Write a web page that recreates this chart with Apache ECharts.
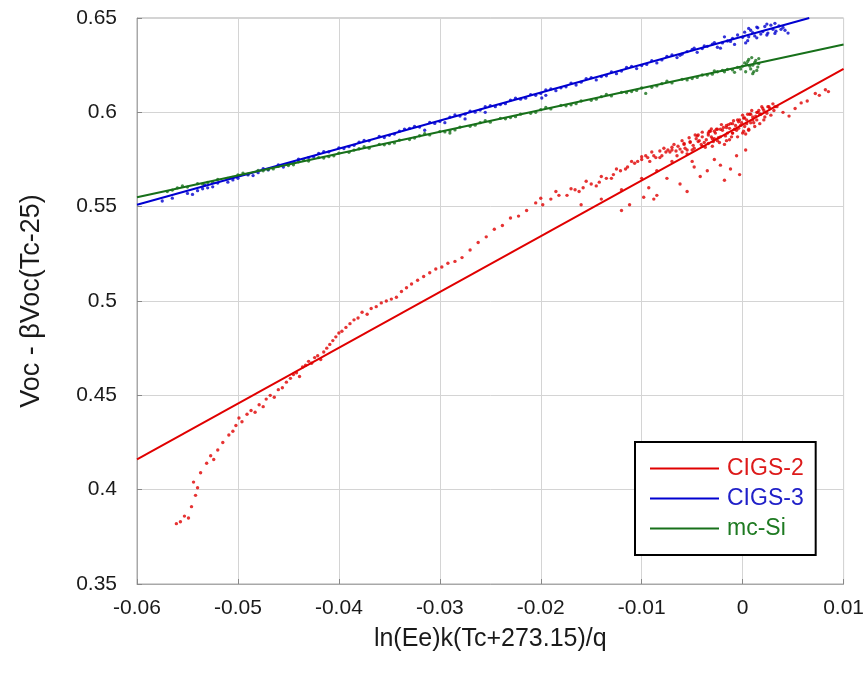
<!DOCTYPE html>
<html>
<head>
<meta charset="utf-8">
<script src="https://cdn.jsdelivr.net/npm/echarts@6/dist/echarts.min.js"></script>
<style>html,body{margin:0;padding:0;background:#fff}#c{width:867px;height:681px}</style>
</head>
<body>
<div id="c"></div>
<script>
// Axis ticks
var xTicks = [-0.06, -0.05, -0.04, -0.03, -0.02, -0.01, 0, 0.01];
var yTicks = [0.35, 0.4, 0.45, 0.5, 0.55, 0.6, 0.65];

// Fitted lines (endpoints)
var cigs2Line = [[-0.06, 0.416], [0.01, 0.623]];
var cigs3Line = [[-0.06, 0.551], [0.0066, 0.650]];
var mcSiLine  = [[-0.06, 0.555], [0.01, 0.636]];

// Measured points: CIGS-2
var cigs2Points = [
[-0.0561,0.382],[-0.0557,0.383],[-0.0553,0.386],[-0.0549,0.385],[-0.0546,0.391],
[-0.0542,0.397],[-0.0540,0.401],[-0.0544,0.404],[-0.0537,0.409],[-0.0531,0.414],
[-0.0527,0.418],[-0.0524,0.416],[-0.0520,0.421],[-0.0515,0.425],[-0.0509,0.429],
[-0.0505,0.431],[-0.0502,0.434],[-0.0499,0.438],[-0.0496,0.436],[-0.0491,0.440],
[-0.0487,0.442],[-0.0483,0.441],[-0.0479,0.445],[-0.0475,0.444],[-0.0472,0.448],
[-0.0468,0.450],[-0.0464,0.449],[-0.0460,0.453],[-0.0456,0.454],[-0.0452,0.457],
[-0.0448,0.459],[-0.0445,0.461],[-0.0442,0.462],[-0.0439,0.460],[-0.0436,0.465],
[-0.0433,0.466],[-0.0430,0.468],[-0.0427,0.467],[-0.0424,0.470],[-0.0421,0.471],
[-0.0418,0.469],[-0.0415,0.473],[-0.0412,0.475],[-0.0409,0.477],[-0.0406,0.479],
[-0.0403,0.481],[-0.0400,0.483],[-0.0397,0.484],[-0.0393,0.486],[-0.0389,0.488],
[-0.0385,0.490],[-0.0381,0.491],[-0.0377,0.494],[-0.0372,0.493],[-0.0368,0.496],
[-0.0363,0.497],[-0.0358,0.499],[-0.0353,0.500],[-0.0348,0.501],[-0.0343,0.502],
[-0.0338,0.505],[-0.0333,0.507],[-0.0328,0.509],[-0.0322,0.511],[-0.0316,0.513],
[-0.0310,0.515],[-0.0304,0.517],[-0.0298,0.518],[-0.0292,0.520],[-0.0285,0.521],
[-0.0278,0.523],[-0.0270,0.527],[-0.0262,0.531],[-0.0254,0.534],[-0.0246,0.538],
[-0.0238,0.540],[-0.0230,0.544],[-0.0222,0.545],[-0.0214,0.548],[-0.0205,0.552],
[-0.0198,0.551],[-0.0190,0.554],[-0.0182,0.556],[-0.0174,0.556],[-0.0166,0.559],
[-0.0158,0.560],[-0.0150,0.562],[-0.0142,0.563],[-0.0135,0.565],[-0.0128,0.567],
[-0.0121,0.569],[-0.0114,0.571],[-0.0107,0.573],[-0.0100,0.575],[-0.0094,0.576],
[-0.0088,0.577],[-0.0082,0.576],[-0.0076,0.579],[-0.0070,0.580],[-0.0064,0.582],
[-0.0058,0.583],[-0.0052,0.584],[-0.0046,0.586],[-0.0040,0.587],[-0.0034,0.589],
[-0.0028,0.590],[-0.0022,0.591],[-0.0016,0.593],[-0.0010,0.594],[-0.0004,0.595],
[0.0002,0.597],[0.0008,0.599],[0.0014,0.600],[0.0020,0.602],[0.0026,0.603],
[-0.0160,0.551],[-0.0140,0.554],[-0.0120,0.559],[-0.0100,0.565],[-0.0085,0.569],
[-0.0070,0.574],[-0.0055,0.578],[-0.0040,0.582],[-0.0025,0.585],[-0.0010,0.589],
[-0.0048,0.581],[-0.0044,0.588],[-0.0038,0.584],[-0.0033,0.590],[-0.0030,0.586],
[-0.0026,0.591],[-0.0022,0.587],[-0.0019,0.592],[-0.0015,0.589],[-0.0012,0.594],
[-0.0008,0.591],[-0.0005,0.596],[-0.0002,0.593],[0.0001,0.597],[0.0004,0.594],
[0.0007,0.599],[0.0010,0.596],[0.0013,0.598],[0.0016,0.601],[0.0018,0.599],
[0.0000,0.589],[-0.0016,0.585],[-0.0030,0.582],[0.0006,0.591],[-0.0060,0.579],
[-0.0120,0.548],[-0.0112,0.551],[-0.0098,0.555],[-0.0088,0.554],[-0.0085,0.556],
[-0.0093,0.560],[-0.0062,0.562],[-0.0055,0.558],[-0.0048,0.571],[-0.0042,0.566],
[-0.0035,0.569],[-0.0028,0.575],[-0.0022,0.572],[-0.0018,0.564],[-0.0012,0.570],
[-0.0006,0.577],[-0.0003,0.567],[0.0003,0.580],[-0.0075,0.565],[-0.0050,0.574],
[-0.0078,0.5810],[-0.0072,0.5790],[-0.0068,0.5830],[-0.0065,0.5770],[-0.0060,0.5850],
[-0.0057,0.5810],[-0.0053,0.5865],[-0.0050,0.5800],[-0.0047,0.5880],[-0.0043,0.5850],
[-0.0040,0.5895],[-0.0037,0.5815],[-0.0034,0.5880],[-0.0031,0.5912],[-0.0028,0.5860],
[-0.0025,0.5910],[-0.0021,0.5935],[-0.0018,0.5830],[-0.0014,0.5935],[-0.0011,0.5870],
[-0.0009,0.5955],[-0.0006,0.5905],[-0.0003,0.5960],[0.0000,0.5985],[0.0003,0.5885],
[0.0005,0.5990],[0.0009,0.6010],[0.0011,0.5945],[0.0015,0.6000],[0.0019,0.6030],
[0.0022,0.5975],[0.0025,0.6030],[0.0030,0.6045],[-0.0016,0.5920],[-0.0032,0.5900],
[-0.0045,0.5875],[-0.0058,0.5835],[-0.0070,0.5815],[-0.0082,0.5795],[-0.0090,0.5790],
[-0.0100,0.5765],[-0.0110,0.5740],[-0.0125,0.5700],[-0.0140,0.5660],[-0.0155,0.5635],
[-0.0170,0.5595],[-0.0185,0.5580],[-0.0200,0.5545],
[-0.0036,0.5855],[-0.0034,0.5835],[-0.0031,0.5870],[-0.0029,0.5845],[-0.0027,0.5890],
[-0.0024,0.5865],[-0.0023,0.5840],[-0.0020,0.5905],[-0.0017,0.5875],[-0.0013,0.5855],
[-0.0013,0.5915],[-0.0010,0.5890],[-0.0007,0.5930],[-0.0005,0.5870],[-0.0004,0.5915],
[-0.0001,0.5945],[0.0001,0.5900],[0.0002,0.5925],[0.0004,0.5960],[0.0006,0.5905],
[0.0008,0.5945],[0.0010,0.5975],[0.0012,0.5925],[0.0014,0.5960],[0.0017,0.5990],
[0.0017,0.5940],[0.0021,0.6010],[0.0021,0.5960],[0.0024,0.5995],[0.0027,0.6020],
[0.0028,0.5985],[0.0031,0.6010],[0.0034,0.6030],[-0.0041,0.5830],[-0.0044,0.5845],
[-0.0049,0.5825],[-0.0052,0.5845],[-0.0055,0.5800],[-0.0062,0.5805],[-0.0066,0.5795],
[-0.0074,0.5800],[-0.0080,0.5770],[-0.0086,0.5760],[-0.0092,0.5740],[-0.0096,0.5770],
[-0.0104,0.5740],[-0.0116,0.5700],[-0.0130,0.5650],[-0.0145,0.5610],[-0.0162,0.5580],
[0.0032,0.603],[0.0040,0.600],[0.0046,0.598],[0.0052,0.602],[0.0058,0.605],
[0.0064,0.606],[0.0072,0.610],[0.0076,0.609],[0.0082,0.612],[0.0085,0.611]
];

// Measured points: CIGS-3
var cigs3Points = [
[-0.0575,0.5530],[-0.0565,0.5545],[-0.0550,0.5570],[-0.0540,0.5585],[-0.0530,0.5600],
[-0.0520,0.5625],[-0.0510,0.5630],[-0.0500,0.5650],[-0.0490,0.5668],[-0.0480,0.5680],
[-0.0470,0.5695],[-0.0460,0.5722],[-0.0450,0.5728],[-0.0440,0.5752],[-0.0430,0.5760],
[-0.0420,0.5782],[-0.0410,0.5790],[-0.0400,0.5812],[-0.0390,0.5818],[-0.0380,0.5842],
[-0.0370,0.5849],[-0.0360,0.5872],[-0.0350,0.5878],[-0.0340,0.5900],[-0.0330,0.5915],
[-0.0320,0.5922],[-0.0310,0.5946],[-0.0300,0.5952],[-0.0290,0.5975],[-0.0280,0.5980],
[-0.0270,0.6006],[-0.0260,0.6012],[-0.0250,0.6036],[-0.0240,0.6041],[-0.0230,0.6065],
[-0.0220,0.6070],[-0.0210,0.6094],[-0.0200,0.6100],[-0.0190,0.6124],[-0.0180,0.6130],
[-0.0170,0.6155],[-0.0160,0.6160],[-0.0150,0.6184],[-0.0140,0.6190],[-0.0130,0.6214],
[-0.0120,0.6219],[-0.0110,0.6244],[-0.0100,0.6248],[-0.0090,0.6274],[-0.0080,0.6278],
[-0.0070,0.6304],[-0.0060,0.6308],[-0.0050,0.6333],[-0.0040,0.6338],[-0.0030,0.6362],
[-0.0020,0.6368],[-0.0010,0.6392],[0.0000,0.6398],[0.0010,0.6422],[0.0020,0.6428],
[0.0030,0.6440],[0.0040,0.6450],
[-0.0545,0.5565],[-0.0525,0.5605],[-0.0485,0.5665],[-0.0455,0.5710],[-0.0425,0.5765],
[-0.0385,0.5825],[-0.0345,0.5885],[-0.0315,0.5905],[-0.0295,0.5945],[-0.0275,0.5990],
[-0.0245,0.6030],[-0.0215,0.6075],[-0.0199,0.6076],[-0.0185,0.6115],[-0.0165,0.6145],
[-0.0145,0.6172],[-0.0125,0.6205],[-0.0105,0.6232],[-0.0085,0.6262],[-0.0065,0.6290],
[-0.0055,0.6322],[-0.0045,0.6318],[-0.0035,0.6350],[-0.0025,0.6345],[-0.0015,0.6378],
[-0.0005,0.6410],[0.0005,0.6380],[0.0008,0.6435],[0.0012,0.6405],[0.0015,0.6448],
[0.0018,0.6415],[0.0022,0.6455],[0.0025,0.6420],[0.0028,0.6462],[0.0033,0.6430],
[0.0036,0.6458],[0.0045,0.6420],[-0.0008,0.6360],[-0.0018,0.6400],[0.0002,0.6425],
[-0.0535,0.5595],[-0.0533,0.5615],[-0.0505,0.5642],[-0.0475,0.5702],[-0.0445,0.5735],
[-0.0415,0.5792],[-0.0395,0.5808],[-0.0375,0.5851],[-0.0355,0.5866],[-0.0335,0.5911],
[-0.0325,0.5926],[-0.0305,0.5941],[-0.0285,0.5986],[-0.0265,0.6001],[-0.0255,0.6030],
[-0.0235,0.6046],[-0.0225,0.6075],[-0.0205,0.6090],[-0.0195,0.6119],[-0.0175,0.6135],
[-0.0155,0.6179],[-0.0135,0.6194],[-0.0115,0.6238],[-0.0095,0.6254],[-0.0075,0.6297],
[-0.0062,0.6302],[-0.0048,0.6340],[-0.0038,0.6352],[-0.0028,0.6370],[-0.0012,0.6376],
[0.0006,0.6400],[0.0006,0.6445],[0.0014,0.6395],[0.0014,0.6452],[0.0024,0.6410],
[0.0024,0.6468],[0.0032,0.6472],[0.0032,0.6418],[0.0038,0.6440],[0.0042,0.6435],
[-0.0275,0.5965],[-0.0255,0.6000],[-0.0195,0.6090],[-0.0022,0.6340],[0.0003,0.6368]
];

// Measured points: mc-Si
var mcSiPoints = [
[-0.0570,0.5580],[-0.0560,0.5600],[-0.0550,0.5604],[-0.0540,0.5622],[-0.0530,0.5628],
[-0.0520,0.5645],[-0.0510,0.5650],[-0.0500,0.5668],[-0.0490,0.5673],[-0.0480,0.5692],
[-0.0470,0.5697],[-0.0460,0.5714],[-0.0450,0.5718],[-0.0440,0.5738],[-0.0430,0.5742],
[-0.0420,0.5760],[-0.0410,0.5765],[-0.0400,0.5784],[-0.0390,0.5788],[-0.0380,0.5807],
[-0.0370,0.5810],[-0.0360,0.5830],[-0.0350,0.5834],[-0.0340,0.5853],[-0.0330,0.5856],
[-0.0320,0.5876],[-0.0310,0.5880],[-0.0300,0.5898],[-0.0290,0.5903],[-0.0280,0.5922],
[-0.0270,0.5926],[-0.0260,0.5945],[-0.0250,0.5948],[-0.0240,0.5968],[-0.0230,0.5972],
[-0.0220,0.5990],[-0.0210,0.5995],[-0.0200,0.6014],[-0.0190,0.6018],[-0.0180,0.6037],
[-0.0170,0.6040],[-0.0160,0.6060],[-0.0150,0.6064],[-0.0140,0.6083],[-0.0130,0.6087],
[-0.0120,0.6106],[-0.0110,0.6110],[-0.0100,0.6129],[-0.0090,0.6133],[-0.0080,0.6152],
[-0.0070,0.6156],[-0.0060,0.6175],[-0.0050,0.6179],[-0.0040,0.6198],[-0.0030,0.6202],
[-0.0020,0.6222],[-0.0010,0.6225],[0.0000,0.6245],[0.0010,0.6250],
[-0.0565,0.5588],[-0.0535,0.5620],[-0.0505,0.5655],[-0.0475,0.5690],[-0.0445,0.5722],
[-0.0415,0.5758],[-0.0385,0.5800],[-0.0355,0.5828],[-0.0325,0.5864],[-0.0295,0.5896],
[-0.0265,0.5932],[-0.0235,0.5966],[-0.0205,0.6000],[-0.0175,0.6035],[-0.0145,0.6070],
[-0.0115,0.6104],[-0.0085,0.6140],[-0.0055,0.6172],[-0.0035,0.6198],[-0.0025,0.6215],
[-0.0015,0.6228],[-0.0005,0.6238],[0.0003,0.6215],[0.0005,0.6270],[0.0008,0.6230],
[0.0012,0.6265],[0.0014,0.6222],[0.0016,0.6258],[0.0004,0.6255],[-0.0008,0.6212],
[-0.0555,0.5610],[-0.0525,0.5630],[-0.0495,0.5678],[-0.0465,0.5700],[-0.0435,0.5748],
[-0.0405,0.5770],[-0.0375,0.5818],[-0.0345,0.5838],[-0.0315,0.5887],[-0.0285,0.5907],
[-0.0255,0.5956],[-0.0225,0.5977],[-0.0195,0.6026],[-0.0165,0.6046],[-0.0135,0.6095],
[-0.0105,0.6116],[-0.0075,0.6165],[-0.0045,0.6185],[-0.0028,0.6220],[-0.0018,0.6215],
[0.0006,0.6280],[0.0010,0.6205],[0.0013,0.6275],[0.0009,0.6290],[0.0015,0.6240],
[0.0002,0.6262],[-0.0002,0.6230],[0.0011,0.6215],[0.0007,0.6245],[0.0016,0.6285],
[-0.0096,0.6100],[-0.0290,0.5890]
];

var RED = '#e00000', BLUE = '#0000d0', GREEN = '#17701a';
var FONT = '"Liberation Sans", Arial, Helvetica, sans-serif';

var chart = echarts.init(document.getElementById('c'), null, {renderer: 'canvas'});
function scatter(name, data, color, size) {
  return {name: name, type: 'scatter', data: data, symbol: 'circle', symbolSize: size,
    itemStyle: {color: color}, silent: true, z: 2};
}
function line(name, data, color) {
  return {name: name, type: 'line', data: data, showSymbol: false, symbol: 'none',
    lineStyle: {color: color, width: 2}, itemStyle: {color: color}, silent: true, z: 3};
}
chart.setOption({
  animation: false,
  backgroundColor: '#fff',
  grid: {left: 137, right: 22, top: 18, bottom: 97, show: true, borderColor: '#a8a8a8', borderWidth: 1},
  xAxis: {
    type: 'value', min: xTicks[0], max: xTicks[xTicks.length - 1], interval: 0.01,
    name: 'ln(Ee)k(Tc+273.15)/q', nameLocation: 'middle', nameGap: 43,
    nameTextStyle: {fontFamily: FONT, fontSize: 25, color: '#1a1a1a'},
    axisLine: {show: true, onZero: false, lineStyle: {color: '#a8a8a8'}},
    axisTick: {show: true, inside: true, length: 5, lineStyle: {color: '#888'}},
    splitLine: {show: true, lineStyle: {color: '#d4d4d4', width: 1}},
    axisLabel: {fontFamily: FONT, fontSize: 21, color: '#1a1a1a', margin: 14}
  },
  yAxis: {
    type: 'value', min: yTicks[0], max: yTicks[yTicks.length - 1], interval: 0.05,
    name: 'Voc - βVoc(Tc-25)', nameLocation: 'middle', nameGap: 92, nameRotate: 90,
    nameTextStyle: {fontFamily: FONT, fontSize: 27, color: '#1a1a1a'},
    axisLine: {show: true, onZero: false, lineStyle: {color: '#a8a8a8'}},
    axisTick: {show: true, inside: true, length: 5, lineStyle: {color: '#888'}},
    splitLine: {show: true, lineStyle: {color: '#d4d4d4', width: 1}},
    axisLabel: {fontFamily: FONT, fontSize: 21, color: '#1a1a1a', margin: 20}
  },
  legend: {
    orient: 'vertical', left: 635, top: 442, itemWidth: 69, itemHeight: 2, icon: 'rect',
    itemGap: 7, padding: [15, 12, 15, 15], borderColor: '#000', borderWidth: 2,
    backgroundColor: '#fff',
    textStyle: {fontFamily: FONT, fontSize: 23, padding: [0, 0, 0, 3]},
    data: [
      {name: 'CIGS-2', textStyle: {color: '#dd1a1a'}, itemStyle: {color: RED}},
      {name: 'CIGS-3', textStyle: {color: '#2020c8'}, itemStyle: {color: BLUE}},
      {name: 'mc-Si', textStyle: {color: '#1e7a22'}, itemStyle: {color: GREEN}}
    ]
  },
  series: [
    scatter('CIGS-2 data', cigs2Points, RED, 3.4),
    scatter('CIGS-3 data', cigs3Points, BLUE, 3.3),
    scatter('mc-Si data', mcSiPoints, GREEN, 3.3),
    line('CIGS-2', cigs2Line, RED),
    line('CIGS-3', cigs3Line, BLUE),
    line('mc-Si', mcSiLine, GREEN)
  ]
});
</script>
</body>
</html>
